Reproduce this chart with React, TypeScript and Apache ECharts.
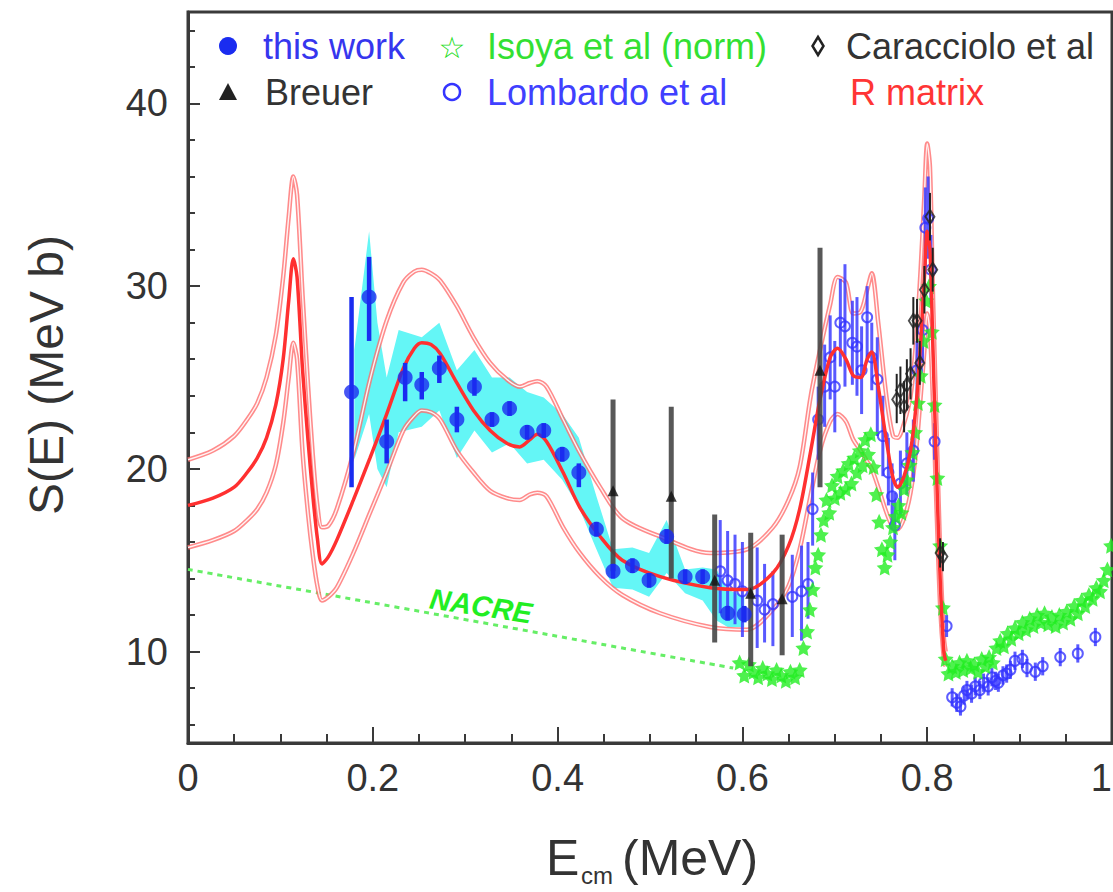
import React, { useEffect, useRef } from "react";
import * as echarts from "echarts";

// ---------------- data ----------------
const yLabelValues = [10, 20, 30, 40];
const yMinorValues = [6, 8, 12, 14, 16, 18, 22, 24, 26, 28, 32, 34, 36, 38, 42, 44];

// this work (x, S, lower, upper)
const twX = [0.177, 0.196, 0.215, 0.235, 0.253, 0.272, 0.291, 0.31, 0.329, 0.348, 0.367, 0.385, 0.405, 0.423, 0.442, 0.46, 0.481, 0.499, 0.518, 0.538, 0.557, 0.584, 0.602];
const twY = [24.2, 29.4, 21.5, 25.0, 24.6, 25.5, 22.7, 24.5, 22.7, 23.3, 22.0, 22.1, 20.8, 19.8, 16.7, 14.4, 14.7, 13.9, 16.3, 14.1, 14.1, 12.1, 12.05];
const twLo = [19.0, 27.0, 20.3, 23.7, 23.8, 24.7, 22.0, 24.0, 22.3, 22.9, 21.6, 21.7, 20.4, 19.0, 16.3, 14.0, 14.3, 13.5, 15.9, 13.7, 13.7, 11.7, 11.6];
const twHi = [29.4, 31.6, 22.7, 25.8, 25.3, 26.2, 23.4, 25.0, 23.1, 23.7, 22.4, 22.5, 21.2, 20.3, 17.1, 14.8, 15.1, 14.3, 16.7, 14.5, 14.5, 12.5, 12.5];

// cyan uncertainty band of this work
const bandX = [0.18, 0.196, 0.205, 0.215, 0.228, 0.253, 0.272, 0.291, 0.31, 0.329, 0.348, 0.367, 0.385, 0.405, 0.423, 0.442, 0.46, 0.481, 0.499, 0.518, 0.538, 0.557, 0.572, 0.584, 0.602];
const bandLo = [20.5, 23.0, 20.0, 19.0, 22.0, 22.3, 23.2, 20.6, 22.1, 20.9, 21.4, 20.3, 20.5, 19.4, 17.9, 15.6, 13.5, 13.4, 13.0, 14.3, 13.2, 12.8, 11.7, 11.35, 11.35];
const bandHi = [26.5, 33.0, 28.0, 25.0, 27.6, 27.2, 28.0, 25.4, 26.5, 25.0, 25.0, 24.2, 23.9, 23.0, 21.7, 18.5, 15.6, 15.7, 15.4, 17.2, 14.5, 14.6, 14.5, 13.4, 13.0];

// Breuer
const brX = [0.46, 0.523, 0.57, 0.609, 0.643, 0.684];
const brY = [18.8, 18.5, 13.9, 13.2, 12.9, 25.4];
const brLo = [14.4, 14.0, 10.5, 9.2, 9.8, 19.0];
const brHi = [23.8, 23.4, 17.5, 16.5, 16.4, 32.1];

// Caracciolo et al
const caX = [0.767, 0.771, 0.775, 0.778, 0.782, 0.785, 0.789, 0.792, 0.797, 0.803, 0.806, 0.814, 0.817];
const caY = [23.8, 24.3, 23.4, 24.6, 25.2, 28.1, 28.1, 25.8, 29.8, 33.8, 30.9, 15.4, 15.2];
const caLo = [22.5, 23.0, 22.0, 23.2, 23.8, 26.8, 26.9, 24.6, 28.5, 32.5, 29.7, 14.6, 14.4];
const caHi = [25.2, 25.6, 24.8, 26.0, 26.6, 29.4, 29.3, 27.0, 31.1, 35.1, 32.1, 16.2, 16.0];

// Lombardo et al
const loX = [0.576, 0.584, 0.592, 0.6, 0.616, 0.624, 0.633, 0.654, 0.664, 0.671, 0.676, 0.682, 0.689, 0.695, 0.7, 0.706, 0.711, 0.719, 0.724, 0.729, 0.735, 0.74, 0.746, 0.752, 0.758, 0.762, 0.765, 0.771, 0.778, 0.785, 0.789, 0.795, 0.798, 0.801, 0.804, 0.808, 0.821,
  0.827, 0.832, 0.836, 0.84, 0.843, 0.848, 0.852, 0.857, 0.861, 0.866, 0.87, 0.874, 0.877, 0.882, 0.886, 0.89, 0.895, 0.903, 0.908, 0.917, 0.925, 0.944, 0.963, 0.982];
const loY = [14.4, 13.9, 13.7, 13.3, 12.8, 12.3, 12.6, 13.0, 13.3, 13.7, 17.8, 22.7, 24.5, 26.1, 24.5, 28.0, 27.8, 26.9, 26.7, 25.4, 28.3, 26.1, 24.9, 21.8, 19.8, 18.5, 16.9, 19.2, 20.3, 21.0, 25.4, 27.6, 33.2, 33.7, 30.9, 21.5, 11.4,
  7.5, 7.2, 7.0, 7.6, 7.9, 7.7, 8.1, 7.9, 8.3, 8.1, 8.6, 8.4, 8.3, 8.7, 8.8, 9.0, 9.5, 9.6, 9.1, 8.9, 9.2, 9.7, 9.9, 10.8];
const loLo = [12.1, 11.8, 11.5, 10.8, 10.2, 10.5, 10.3, 10.8, 10.6, 11.8, 15.8, 20.5, 22.3, 23.8, 22.0, 25.6, 24.5, 24.6, 24.0, 23.0, 26.0, 24.3, 21.8, 19.6, 18.0, 16.7, 15.0, 17.5, 18.6, 19.3, 23.6, 25.8, 31.0, 31.5, 29.0, 20.5, 10.8,
  7.0, 6.7, 6.5, 7.1, 7.4, 7.2, 7.6, 7.4, 7.8, 7.6, 8.1, 7.9, 7.8, 8.2, 8.3, 8.5, 9.0, 9.1, 8.6, 8.4, 8.7, 9.2, 9.4, 10.3];
const loHi = [17.2, 16.6, 16.4, 16.0, 15.7, 14.8, 14.4, 15.3, 15.8, 16.0, 19.8, 24.5, 26.8, 28.4, 27.0, 30.4, 31.2, 29.2, 29.4, 27.8, 30.0, 28.0, 27.2, 24.0, 21.7, 20.3, 18.7, 21.0, 22.0, 22.7, 27.0, 29.4, 35.4, 36.0, 32.8, 22.5, 12.0,
  8.0, 7.7, 7.5, 8.1, 8.4, 8.2, 8.6, 8.4, 8.8, 8.6, 9.1, 8.9, 8.8, 9.2, 9.3, 9.5, 10.0, 10.1, 9.6, 9.4, 9.7, 10.2, 10.4, 11.3];

// Isoya et al (norm)
const isX = [0.597, 0.602, 0.607, 0.612, 0.617, 0.622, 0.627, 0.632, 0.637, 0.642, 0.647, 0.652, 0.657, 0.662, 0.666, 0.67, 0.673, 0.676, 0.679, 0.682, 0.685, 0.688, 0.691, 0.694, 0.697, 0.7, 0.703, 0.706, 0.709, 0.712, 0.715, 0.718, 0.721, 0.724, 0.727, 0.73, 0.733, 0.736, 0.739, 0.742, 0.745, 0.748, 0.751, 0.754, 0.757, 0.76, 0.763, 0.766, 0.769, 0.772, 0.775, 0.778, 0.781, 0.784, 0.787, 0.79, 0.793, 0.796, 0.799, 0.802, 0.805, 0.808, 0.811, 0.814, 0.817, 0.82, 0.823,
  0.827, 0.831, 0.835, 0.839, 0.843, 0.847, 0.851, 0.855, 0.859, 0.863, 0.867, 0.871, 0.875, 0.879, 0.883, 0.887, 0.891, 0.895, 0.899, 0.903, 0.907, 0.911, 0.915, 0.919, 0.923, 0.927, 0.931, 0.935, 0.939, 0.943, 0.947, 0.951, 0.955, 0.959, 0.963, 0.967, 0.971, 0.975, 0.979, 0.983, 0.987, 0.991, 0.995, 0.999];
const isY = [9.4, 8.7, 9.3, 8.9, 8.6, 9.1, 8.8, 8.5, 9.0, 8.7, 8.4, 8.9, 8.6, 9.0, 10.2, 11.1, 12.3, 13.4, 14.6, 15.3, 16.4, 17.2, 18.3, 17.6, 19.1, 18.4, 19.6, 18.7, 19.9, 18.9, 20.3, 19.2, 20.6, 19.8, 21.0, 20.2, 21.6, 20.8, 21.9, 20.1, 18.6, 17.1, 15.6, 14.6, 15.3, 16.0, 16.8, 17.4, 18.0, 17.6, 18.9, 19.4, 20.2, 20.9, 22.0, 23.6, 25.1, 27.0, 29.2, 30.0, 27.5, 23.5, 19.5, 15.8, 12.4, 9.6, 8.8,
  9.2, 8.9, 9.4, 9.0, 9.5, 9.1, 9.3, 8.9, 9.6, 9.2, 9.7, 9.4, 10.2, 10.6, 10.3, 11.0, 10.7, 11.3, 11.0, 11.6, 11.2, 11.8, 11.4, 12.0, 11.6, 12.1, 11.5, 11.9, 11.4, 12.0, 11.6, 12.2, 11.8, 12.5, 12.1, 12.8, 12.5, 13.1, 12.9, 13.5, 13.3, 13.9, 14.5, 15.8];

// R matrix fit (central, upper, lower)
const rmX = [0, 0.027, 0.05, 0.064, 0.075, 0.085, 0.095, 0.103, 0.109, 0.114, 0.118, 0.124, 0.13, 0.135, 0.14, 0.145, 0.152, 0.161, 0.179, 0.197, 0.215, 0.233, 0.245, 0.253, 0.263, 0.273, 0.291, 0.309, 0.327, 0.345, 0.359, 0.37, 0.378, 0.388, 0.406, 0.424, 0.446, 0.47, 0.511, 0.565, 0.605, 0.633, 0.65, 0.662, 0.674, 0.684, 0.695, 0.703, 0.712, 0.72, 0.728, 0.735, 0.74, 0.747, 0.756, 0.763, 0.768, 0.775, 0.782, 0.788, 0.793, 0.797, 0.8, 0.803, 0.806, 0.81, 0.814, 0.818, 0.82];
const rmY = [18.0, 18.4, 19.0, 19.8, 20.6, 21.7, 23.5, 26.0, 29.2, 31.5, 30.5, 25.4, 21.5, 18.6, 16.2, 14.8, 15.2, 16.1, 18.3, 20.6, 23.0, 25.5, 26.6, 26.9, 26.8, 26.3, 24.7, 23.2, 22.1, 21.4, 21.2, 21.6, 21.9, 21.5, 19.8, 17.9, 16.3, 15.0, 14.1, 13.5, 13.4, 14.3, 15.8, 17.8, 21.0, 23.8, 26.1, 26.6, 26.0, 25.1, 25.0, 26.0, 26.4, 24.5, 21.5, 19.5, 19.0, 19.6, 21.0, 23.5, 27.0, 30.5, 33.0, 32.0, 27.0, 20.0, 14.0, 10.0, 9.5];
const rmUp = [20.5, 21.0, 21.8, 22.7, 23.6, 25.0, 27.3, 30.5, 33.8, 36.0, 35.0, 29.5, 24.5, 20.8, 18.0, 16.8, 16.9, 17.8, 20.9, 24.9, 28.1, 30.2, 30.8, 30.9, 30.7, 30.3, 28.9, 27.2, 25.8, 24.9, 24.5, 24.7, 24.8, 24.5, 22.7, 20.9, 19.0, 17.3, 16.3, 15.4, 15.6, 16.8, 18.3, 20.1, 24.0, 26.5, 29.0, 30.5, 30.2, 28.5, 28.6, 29.8, 30.7, 28.0, 23.9, 21.8, 21.7, 22.5, 24.0, 27.0, 31.0, 35.0, 37.8, 36.5, 30.0, 22.5, 15.5, 10.8, 10.0];
const rmLo = [15.7, 16.1, 16.6, 17.2, 17.8, 18.7, 20.2, 22.5, 25.0, 26.9, 26.0, 20.9, 17.5, 15.3, 13.6, 12.8, 13.0, 13.5, 15.4, 17.6, 19.8, 22.1, 22.9, 23.2, 23.1, 22.7, 21.0, 19.8, 18.8, 18.4, 18.3, 18.6, 18.7, 18.5, 16.8, 15.4, 14.1, 13.1, 12.1, 11.35, 11.2, 12.3, 13.6, 15.6, 18.6, 21.0, 22.6, 23.0, 22.6, 21.6, 21.0, 20.4, 20.0, 19.0, 17.6, 16.8, 16.7, 17.3, 18.7, 21.0, 24.0, 26.5, 28.5, 27.5, 24.0, 18.0, 12.5, 9.6, 9.2];

// NACRE
const nacreX = [0, 0.59];
const nacreY = [14.5, 9.1];

// ---------------- styling helpers ----------------
const FONT = '"Liberation Sans", Arial, Helvetica, sans-serif';
const pairs = (xs: number[], ys: number[]) => xs.map((x, i) => [x, ys[i]]);

function errorBars(xs: number[], lo: number[], hi: number[], color: string, width: number, z: number) {
  return {
    type: "custom",
    z,
    silent: true,
    clip: true,
    data: xs.map((x, i) => [x, lo[i], hi[i]]),
    encode: { x: 0, y: [1, 2] },
    renderItem: (_p: any, api: any) => {
      const a = api.coord([api.value(0), api.value(1)]);
      const b = api.coord([api.value(0), api.value(2)]);
      return {
        type: "line",
        shape: { x1: a[0], y1: a[1], x2: b[0], y2: b[1] },
        style: { stroke: color, lineWidth: width },
      };
    },
  };
}

function line(xs: number[], ys: number[], color: string, width: number, z: number, extra: any = {}) {
  return {
    type: "line",
    z,
    silent: true,
    showSymbol: false,
    symbol: "none",
    smooth: 0.3,
    data: pairs(xs, ys),
    lineStyle: { color, width, ...extra },
  };
}

const STAR = "path://M0,-10 L2.9,-4 L9.5,-3.1 L4.7,1.5 L5.9,8.1 L0,5 L-5.9,8.1 L-4.7,1.5 L-9.5,-3.1 L-2.9,-4 Z";

export default function App() {
  const ref = useRef<HTMLDivElement>(null);

  useEffect(() => {
    document.body.style.margin = "0";
    if (!ref.current) return;
    const chart = echarts.init(ref.current, null, { renderer: "svg" });

    const bandSeries = {
      type: "custom",
      z: 1,
      silent: true,
      clip: true,
      data: [[bandX[0], bandLo[0]]],
      renderItem: (_p: any, api: any) => {
        const pts: number[][] = [];
        for (let i = 0; i < bandX.length; i++) pts.push(api.coord([bandX[i], bandHi[i]]));
        for (let i = bandX.length - 1; i >= 0; i--) pts.push(api.coord([bandX[i], bandLo[i]]));
        return { type: "polygon", shape: { points: pts }, style: { fill: "rgb(100,246,246)" } };
      },
    };

    const option: any = {
      animation: false,
      backgroundColor: "#ffffff",
      grid: {
        left: 188,
        top: 12,
        right: 1,
        bottom: 149,
        outerBoundsMode: "none",
        containLabel: false,
        show: true,
        borderColor: "#3a3a3a",
        borderWidth: 3,
        backgroundColor: "transparent",
      },
      xAxis: {
        type: "value",
        min: 0,
        max: 1,
        interval: 0.2,
        axisLine: { show: true, lineStyle: { color: "#3a3a3a", width: 3 } },
        axisTick: { show: true, inside: true, length: 16, lineStyle: { color: "#3a3a3a", width: 2 } },
        minorTick: { show: true, splitNumber: 4, length: 9, lineStyle: { color: "#3a3a3a", width: 2 } },
        splitLine: { show: false },
        minorSplitLine: { show: false },
        axisLabel: { fontSize: 38, color: "#333", fontFamily: FONT, margin: 16, hideOverlap: false, alignMaxLabel: "right" },
      },
      yAxis: [
        {
          type: "value",
          min: 5,
          max: 45,
          axisLine: { show: true, lineStyle: { color: "#3a3a3a", width: 3 } },
          axisTick: { show: true, inside: true, length: 12, customValues: yLabelValues, lineStyle: { color: "#3a3a3a", width: 2 } },
          axisLabel: { fontSize: 38, color: "#333", fontFamily: FONT, margin: 20, customValues: yLabelValues },
          splitLine: { show: false },
        },
        {
          type: "value",
          min: 5,
          max: 45,
          position: "left",
          axisLine: { show: false },
          axisTick: { show: true, inside: true, length: 7, customValues: yMinorValues, lineStyle: { color: "#3a3a3a", width: 2 } },
          axisLabel: { show: false },
          splitLine: { show: false },
        },
      ],
      graphic: [
        // legend row 1
        { type: "circle", shape: { cx: 228, cy: 46, r: 9 }, style: { fill: "#1a2cf0" } },
        { type: "text", x: 263, y: 46, style: { text: "this work", font: `36px ${FONT}`, fill: "#3636ee", verticalAlign: "middle" } },
        { type: "text", x: 452, y: 47, style: { text: "\u2606", font: `bold 30px "DejaVu Sans"`, fill: "#22dd22", align: "center", verticalAlign: "middle" } },
        { type: "text", x: 487, y: 46, style: { text: "Isoya et al (norm)", font: `36px ${FONT}`, fill: "#33e033", verticalAlign: "middle" } },
        { type: "polygon", shape: { points: [[818, 37], [823.5, 46], [818, 55], [812.5, 46]] }, style: { fill: "none", stroke: "#222", lineWidth: 2.5 } },
        { type: "text", x: 846, y: 46, style: { text: "Caracciolo et al", font: `36px ${FONT}`, fill: "#333", verticalAlign: "middle" } },
        // legend row 2
        { type: "polygon", shape: { points: [[228, 83], [237, 100], [219, 100]] }, style: { fill: "#222" } },
        { type: "text", x: 265, y: 92, style: { text: "Breuer", font: `36px ${FONT}`, fill: "#333", verticalAlign: "middle" } },
        { type: "circle", shape: { cx: 452, cy: 92, r: 8 }, style: { fill: "none", stroke: "#3535ff", lineWidth: 2.5 } },
        { type: "text", x: 487, y: 92, style: { text: "Lombardo et al", font: `36px ${FONT}`, fill: "#4040ff", verticalAlign: "middle" } },
        { type: "text", x: 850, y: 92, style: { text: "R matrix", font: `36px ${FONT}`, fill: "#ff3535", verticalAlign: "middle" } },
        // NACRE label
        { type: "text", x: 481, y: 606, rotation: -0.15, style: { text: "NACRE", font: `italic bold 29px ${FONT}`, fill: "#22ee22", align: "center", verticalAlign: "middle" } },
        // axis titles
        { type: "text", x: 546, y: 858, style: { text: "E", font: `50px ${FONT}`, fill: "#333", verticalAlign: "middle" } },
        { type: "text", x: 581, y: 875, style: { text: "cm", font: `24px ${FONT}`, fill: "#333", verticalAlign: "middle" } },
        { type: "text", x: 622, y: 858, style: { text: "(MeV)", font: `50px ${FONT}`, fill: "#333", verticalAlign: "middle" } },
        { type: "text", x: 46, y: 375, rotation: Math.PI / 2, style: { text: "S(E) (MeV b)", font: `48px ${FONT}`, fill: "#333", align: "center", verticalAlign: "middle" } },
      ],
      series: [
        bandSeries,
        line(nacreX, nacreY, "#66ee66", 3, 2, { type: [5, 5] }),
        line(rmX, rmUp, "rgba(255,110,110,0.8)", 4.5, 3),
        line(rmX, rmUp, "rgba(255,255,255,0.9)", 1.4, 3),
        line(rmX, rmLo, "rgba(255,110,110,0.8)", 4.5, 3),
        line(rmX, rmLo, "rgba(255,255,255,0.9)", 1.4, 3),
        errorBars(loX, loLo, loHi, "rgba(60,60,255,0.85)", 3, 5),
        {
          type: "scatter", z: 5, silent: true, symbol: "circle", symbolSize: 10,
          data: pairs(loX, loY),
          itemStyle: { color: "rgba(255,255,255,0)", borderColor: "#3535ff", borderWidth: 2 },
        },
        {
          type: "scatter", z: 6, silent: true, symbol: STAR, symbolSize: 16,
          data: pairs(isX, isY),
          itemStyle: { color: "#22ee22" },
        },
        line(rmX, rmY, "#ff3030", 3.5, 7),
        errorBars(brX, brLo, brHi, "rgba(70,70,70,0.9)", 5, 8),
        {
          type: "scatter", z: 8, silent: true, symbol: "triangle", symbolSize: 11,
          data: pairs(brX, brY),
          itemStyle: { color: "#111" },
        },
        errorBars(caX, caLo, caHi, "#222", 2, 8),
        {
          type: "scatter", z: 8, silent: true, symbol: "diamond", symbolSize: [9, 14],
          data: pairs(caX, caY),
          itemStyle: { color: "rgba(255,255,255,0)", borderColor: "#222", borderWidth: 2 },
        },
        errorBars(twX, twLo, twHi, "#1a2cf0", 4.5, 9),
        {
          type: "scatter", z: 9, silent: true, symbol: "circle", symbolSize: 15,
          data: pairs(twX, twY),
          itemStyle: { color: "#1a2cf0" },
        },
      ],
    };

    chart.setOption(option);
    return () => chart.dispose();
  }, []);

  return <div ref={ref} style={{ width: 1113, height: 892 }} />;
}
